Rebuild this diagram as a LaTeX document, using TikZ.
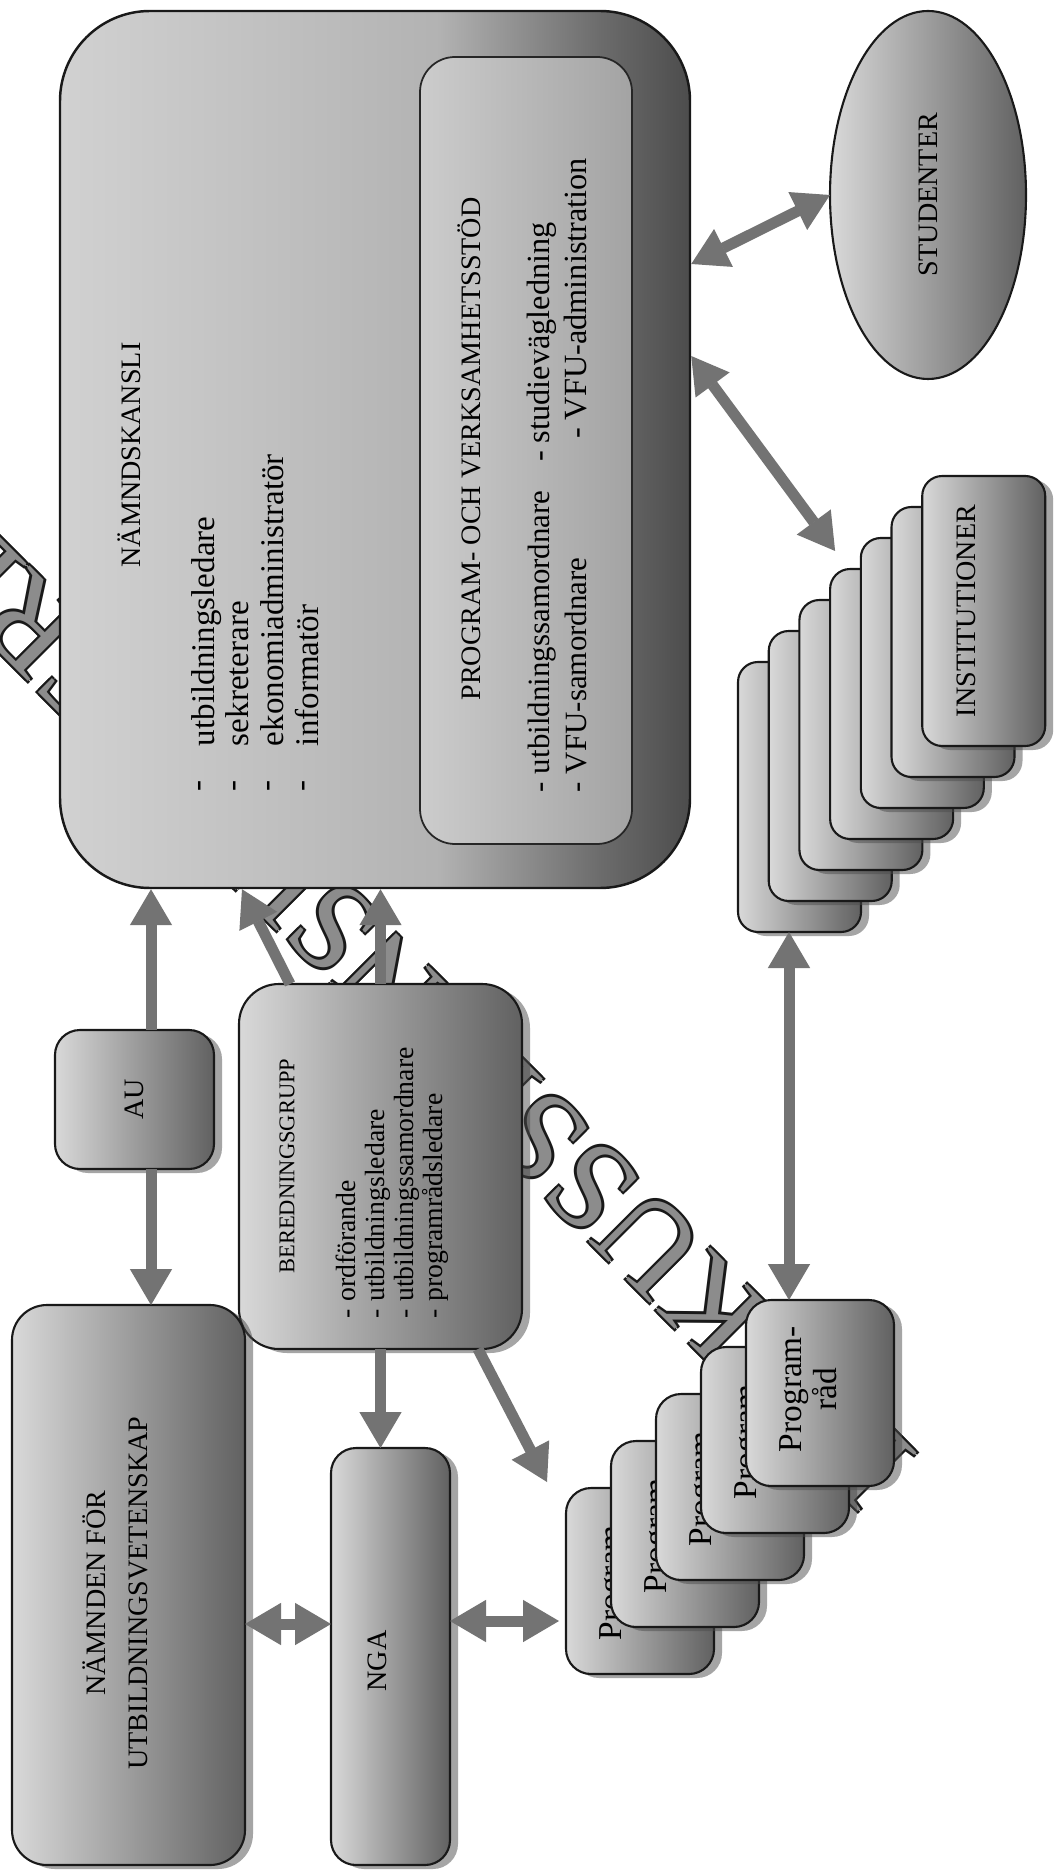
\documentclass[tikz,border=0pt]{standalone}
\usepackage{fontspec}
\setmainfont{Liberation Serif}
\usepackage{graphicx}
\usetikzlibrary{arrows.meta,shapes.geometric,shadows,calc}
\newcommand\fsz[2]{\fontsize{#1}{#2}\selectfont}
\pgfdeclarehorizontalshading{nkshade}{100bp}{color(0bp)=(black!18); color(25bp)=(black!18); color(55bp)=(black!30); color(68bp)=(black!58); color(75bp)=(black!70); color(100bp)=(black!70)}
\tikzset{
  box/.style={draw=black!90, line width=0.6pt, left color=black!15, right color=black!62, inner sep=0pt, outer sep=0pt},
  card/.style={box, drop shadow={shadow xshift=0.8mm, shadow yshift=-0.4mm, opacity=0.5, fill=black!70}},
  txt/.style={rotate=90, inner sep=0pt, outer sep=0pt},
  arr/.style={draw=black!55, line width=1.1mm, >={Triangle[length=3.6mm,width=4.2mm,line width=0.4pt]}},
  wmark/.style={rotate=135, inner sep=0pt, font=\fsz{36}{36}},
}
\begin{document}
\begin{tikzpicture}[x=0.1mm,y=-0.1mm]
\useasboundingbox (0,0) rectangle (1059,1870);
\clip (0,0) rectangle (1059,1870);
\fill[white] (0,0) rectangle (1059,1870);
% watermark (behind everything)
\node[wmark, text=black!90] (wma) at (350,948) {DISKUSSIONSUNDERLAG};
\node[wmark, text=black!90] (wmb) at (356,948) {DISKUSSIONSUNDERLAG};
\node[wmark, text=black!90] (wmc) at (353,945) {DISKUSSIONSUNDERLAG};
\node[wmark, text=black!90] (wmd) at (353,951) {DISKUSSIONSUNDERLAG};
\node[wmark, text=black!45] (wm) at (353,948) {DISKUSSIONSUNDERLAG};
% Nämndskansli
\node[shade, shading=nkshade, draw=black!90, line width=0.7pt, rounded corners=9mm, minimum width=63mm, minimum height=87.7mm, inner sep=0pt] (nk) at (375,449.5) {};
\node[draw=black!85, line width=0.5pt, left color=black!20, right color=black!36, rounded corners=3.5mm, minimum width=21.2mm, minimum height=78.7mm, inner sep=0pt] (pv) at (526,450.5) {};
\node[txt, font=\fsz{8}{9.6}] (nkt) at (129,455) {NÄMNDSKANSLI};
\node[txt, font=\fsz{9.4}{9.9}, align=center] (nkd) at (255,786) {-\\-\\-\\-};
\node[txt, font=\fsz{9.4}{9.9}, align=left, anchor=west] (nkl) at (255,746) {utbildningsledare\\sekreterare\\ekonomiadministratör\\informatör};
\node[txt, font=\fsz{8}{9.6}] (pvt) at (469,449) {PROGRAM- OCH VERKSAMHETSSTÖD};
\node[txt, font=\fsz{8.8}{10}, anchor=west] (pv1) at (542,792) {- utbildningssamordnare};
\node[txt, font=\fsz{9.2}{10}, anchor=west] (pv2) at (542,462) {- studievägledning};
\node[txt, font=\fsz{8.8}{10}, anchor=west] (pv3) at (576,792) {- VFU-samordnare};
\node[txt, font=\fsz{9.2}{10}, anchor=west] (pv4) at (576,439) {- VFU-administration};
% Studenter
\node[box, ellipse, minimum width=19.6mm, minimum height=36.8mm] (stud) at (928,195) {\rotatebox{90}{\fsz{8}{9.6}STUDENTER}};
% Institutioner stack
\foreach \i in {0,...,6}
  \node[card, rounded corners=2mm, minimum width=12.3mm, minimum height=27mm] (inst\i) at ({799.5+30.7*\i},{797-31*\i}) {};
\node[txt, font=\fsz{8}{9.6}] (instt) at ([xshift=-1.7mm]inst6.center) {INSTITUTIONER};
% AU
\node[card, rounded corners=2.5mm, minimum width=15.9mm, minimum height=13.9mm] (au) at (134.5,1099.5) {\rotatebox{90}{\fsz{8}{9.6}AU}};
% Beredningsgrupp
\node[card, rounded corners=4mm, minimum width=28.3mm, minimum height=36.5mm] (ber) at (380.5,1166.5) {};
\node[txt, font=\fsz{6.4}{7.7}] (bert) at (287,1166) {BEREDNINGSGRUPP};
\node[txt, font=\fsz{7.9}{8.3}, align=left, anchor=west] (berl) at (392,1318) {- ordförande\\- utbildningsledare\\- utbildningssamordnare\\- programrådsledare};
% Nämnden
\node[card, rounded corners=3.5mm, minimum width=23.3mm, minimum height=56mm] (nfu) at (128.5,1585) {};
\node[txt, align=center, font=\fsz{8}{12}] (nfut) at (115,1593) {NÄMNDEN FÖR\\UTBILDNINGSVETENSKAP};
% NGA
\node[card, rounded corners=2.5mm, minimum width=11.9mm, minimum height=41.7mm] (nga) at (390.5,1656.5) {};
\node[txt, font=\fsz{8}{9.6}] (ngat) at (377,1661) {NGA};
% Programråd stack
\foreach \i in {0,...,4} {
  \node[card, rounded corners=2.5mm, minimum width=14.8mm, minimum height=18.6mm] (prog\i) at ({640+45*\i},{1581-47*\i}) {};
  \node[txt, align=center, font=\fsz{9.5}{10}] (progt\i) at ([xshift=-1.15mm, yshift=0.4mm]prog\i.center) {Program-\\råd};
}
% connectors
\coordinate (au1) at ([xshift=1.65mm]au.north);
\coordinate (au2) at ([xshift=1.65mm]au.south);
\coordinate (b1) at ([xshift=-9.05mm]ber.north);
\coordinate (n1) at ([xshift=-13.3mm]nk.south);
\coordinate (b2) at ([xshift=-4.4mm]ber.south east);
\coordinate (pg0) at ([shift={(-1.9mm,0.6mm)}]prog0.north west);
\coordinate (h1) at (0,1624);
\coordinate (h2) at (0,1621);
\coordinate (h3) at (0,264);
\coordinate (h4) at (0,356);
\coordinate (i3) at ([shift={(0.5mm,1.8mm)}]inst3.north west);
\coordinate (i0) at ([xshift=-1.05mm]inst0.south);
\draw[arr,->] (au1) -- (au1 |- nk.south);
\draw[arr,->] (au2) -- (au2 |- nfu.north);
\draw[arr,->] (b1) -- (n1);
\draw[arr,->] (ber.north) -- (ber.north |- nk.south);
\draw[arr,->] (ber.south) -- (ber.south |- nga.north);
\draw[arr,->] (b2) -- (pg0);
\draw[arr,<->] (nfu.east |- h1) -- (nga.west |- h1);
\draw[arr,<->,shorten >=0.7mm] (nga.east |- h2) -- (prog0.west |- h2);
\draw[arr,<->] (nk.east |- h3) -- (stud.west);
\draw[arr,<->] (nk.east |- h4) -- (i3);
\draw[arr,<->] (i0) -- (i0 |- prog4.north);
\end{tikzpicture}
\end{document}
